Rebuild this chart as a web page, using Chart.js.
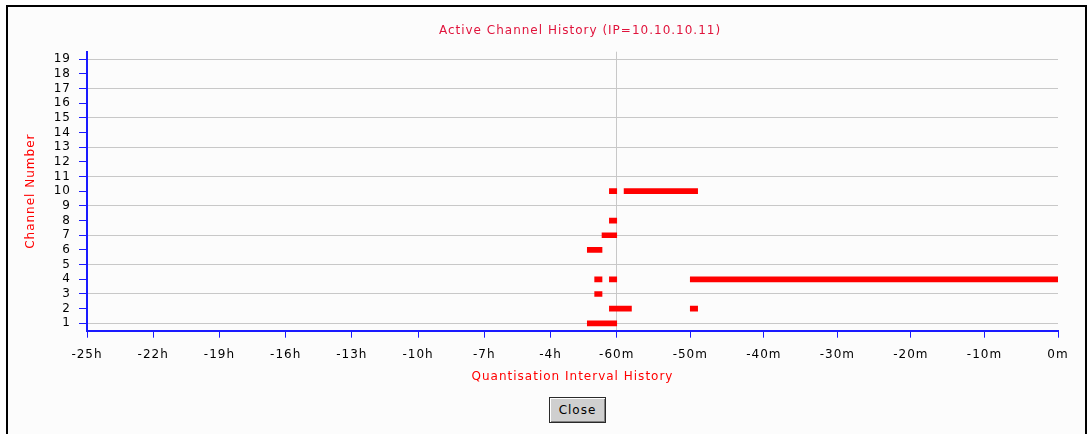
<!DOCTYPE html>
<html>
<head>
<meta charset="utf-8">
<title>Active Channel History</title>
<script src="https://cdn.jsdelivr.net/npm/chart.js@4.4.1/dist/chart.umd.min.js"></script>
<style>
  html, body { margin: 0; padding: 0; background: #ffffff; }
  body { width: 1089px; height: 434px; position: relative; overflow: hidden; }
  #frame {
    position: absolute; left: 6px; top: 5px; width: 1077px; height: 440px;
    border: 2px solid #000; border-bottom: none; background: #fcfcfc;
  }
  #wrap { position: absolute; left: 0; top: 0; width: 1089px; height: 434px; }
  #closeBtn {
    position: absolute; left: 549px; top: 397px; width: 57px; height: 26px;
    font: 12px "DejaVu Sans", sans-serif; letter-spacing: 1px; color: #000;
    background: #cfcfcf; border: 1px solid #2a2a2a; padding: 0;
    box-shadow: inset 1px 1px 0 #ffffff, inset -1px -1px 0 #808080;
  }
</style>
</head>
<body>
<div id="frame"></div>
<div id="wrap"><canvas id="chart" width="1089" height="434"></canvas></div>
<button id="closeBtn">Close</button>
<script>
// Active intervals per channel, in minutes relative to now (0 = now)
const channels = [10, 10, 8, 7, 6, 4, 4, 4, 3, 2, 2, 1];
const startMin = [-80, -59, -80, -100, -140, -120, -80, -50, -120, -80, -50, -140];
const endMin   = [-60, -49, -60, -60, -100, -100, -60, 0, -100, -58, -49, -60];

// Time axis: 3-hour steps up to -60m, then 10-minute steps
const tickMinutes = [-1500, -1320, -1140, -960, -780, -600, -420, -240, -60, -50, -40, -30, -20, -10, 0];
const tickLabels = ['-25h', '-22h', '-19h', '-16h', '-13h', '-10h', '-7h', '-4h',
                    '-60m', '-50m', '-40m', '-30m', '-20m', '-10m', '0m'];

// Channel axis
const channelTicks = [1, 2, 3, 4, 5, 6, 7, 8, 9, 10, 11, 12, 13, 14, 15, 16, 17, 18, 19];

// Piecewise time scale: the hour section and the minute section get different step widths
const HOUR_STEP = 66.25;
const MIN_STEP = 73.58;
function toAxis(m) {
  if (m <= -60) return (m + 1500) / 180 * HOUR_STEP;
  return 8 * HOUR_STEP + (m + 60) / 10 * MIN_STEP;
}

const bars = channels.map((c, i) => ({ y: c, x: [toAxis(startMin[i]), toAxis(endMin[i])] }));

const BLUE = '#1a1aff';
const GRID = '#c8c8c8';
const FONT = "'DejaVu Sans', sans-serif";

const letterSpacing = {
  id: 'letterSpacing',
  beforeUpdate(chart) { chart.ctx.letterSpacing = '1px'; },
  beforeDraw(chart) { chart.ctx.letterSpacing = '1px'; }
};

// Title sits slightly right of the plot centre
const titleShift = {
  id: 'titleShift',
  afterLayout(chart) {
    const t = chart.titleBlock;
    if (t) { t.left += 7.5; t.right += 7.5; }
  }
};

new Chart(document.getElementById('chart'), {
  type: 'bar',
  data: {
    datasets: [{
      data: bars,
      backgroundColor: '#ff0000',
      borderWidth: 0,
      barThickness: 5
    }]
  },
  options: {
    indexAxis: 'y',
    responsive: false,
    animation: false,
    layout: { padding: { left: 0, right: 31, top: 0, bottom: 0 } },
    plugins: {
      legend: { display: false },
      tooltip: { enabled: false },
      title: {
        display: true,
        text: 'Active Channel History (IP=10.10.10.11)',
        color: '#e0143c',
        fullSize: false,
        font: { family: FONT, size: 12, weight: 'normal' },
        padding: { top: 24, bottom: 13.3 }
      }
    },
    scales: {
      x: {
        type: 'linear',
        min: 0,
        max: toAxis(0),
        afterBuildTicks(scale) { scale.ticks = tickMinutes.map(m => ({ value: toAxis(m) })); },
        afterFit(scale) { scale.height = 103.3; },
        ticks: {
          autoSkip: false,
          maxRotation: 0,
          padding: 9.8,
          color: '#000',
          font: { family: FONT, size: 12 },
          callback: (v, i) => tickLabels[i]
        },
        grid: {
          color: ctx => (ctx.tick && Math.abs(ctx.tick.value - toAxis(-60)) < 0.01) ? GRID : 'rgba(0,0,0,0)',
          tickColor: BLUE,
          tickLength: 7,
          lineWidth: 1
        },
        border: { color: BLUE, width: 2 },
        title: {
          display: true,
          text: 'Quantisation Interval History',
          color: '#ff0000',
          font: { family: FONT, size: 12 },
          padding: { top: 0, bottom: 49.8 }
        }
      },
      y: {
        type: 'linear',
        min: 0.5,
        max: 19.5,
        offset: false,
        afterBuildTicks(scale) { scale.ticks = channelTicks.map(v => ({ value: v })); },
        afterFit(scale) { scale.width = 87; },
        ticks: {
          autoSkip: false,
          padding: 8,
          color: '#000',
          font: { family: FONT, size: 12 },
          callback: v => String(v)
        },
        grid: {
          offset: false,
          color: ctx => (ctx.tick && ctx.tick.value % 2 === 1) ? GRID : 'rgba(0,0,0,0)',
          tickColor: BLUE,
          tickLength: 8,
          lineWidth: 1
        },
        border: { color: BLUE, width: 2 },
        title: {
          display: true,
          text: 'Channel Number',
          color: '#ff0000',
          font: { family: FONT, size: 12 },
          padding: { top: 23.8, bottom: 0 }
        }
      }
    }
  },
  plugins: [letterSpacing, titleShift]
});
</script>
</body>
</html>
